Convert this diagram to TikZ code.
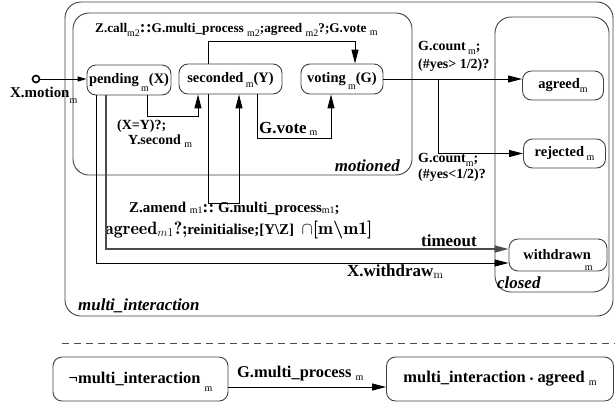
\documentclass[tikz,border=0pt]{standalone}
\usepackage{fontspec}
\setmainfont{Liberation Serif}
\usetikzlibrary{arrows.meta}
\tikzset{state/.style={draw=black!75, line width=0.9bp, rounded corners=9bp, inner sep=0pt, font=\fontsize{14.5}{14.5}\bfseries\selectfont},
  region/.style={draw=black!75, line width=0.9bp, rounded corners=16bp, inner sep=0pt},
  trans/.style={draw, line width=1bp, -{Triangle[length=14bp,width=7bp]}},
  lbl/.style={inner sep=0pt, font=\fontsize{14}{14}\bfseries\selectfont},
  biglbl/.style={inner sep=0pt, font=\fontsize{17}{17}\bfseries\selectfont},
  area/.style={inner sep=0pt, font=\fontsize{17}{17}\bfseries\itshape\selectfont},
  startdot/.style={draw, circle, line width=1.6bp, inner sep=0pt, minimum size=7bp}}
% lowered index, kept out of the line height
\newcommand{\lo}[2][6bp]{\smash{\raisebox{-#1}{\fontsize{10}{10}\mdseries\selectfont #2}}}
\newcommand{\dcolon}{{\fontsize{17}{17}\bfseries\selectfont:\kern0.5bp:}}
\newcommand{\cmr}{\fontfamily{lmr}\selectfont}

\begin{document}
\begin{tikzpicture}[x=1bp, y=-1bp]
  \useasboundingbox (0,0) rectangle (615,404);
  % superstates
  \node[region, minimum width=548bp, minimum height=314bp] (multi) at (339,159) {};
  \node[region, minimum width=339bp, minimum height=162bp] (motioned) at (242.5,94) {};
  \node[region, minimum width=114bp, minimum height=275bp] (closed) at (552,154.5) {};
  \node[area, anchor=base west] (multilbl) at (78,310) {multi\_interaction};
  \node[area, anchor=base east] (motionedlbl) at (400,171) {motioned};
  \node[area, anchor=base west] (closedlbl) at (497,288) {closed};

  % states
  \node[state, minimum width=84bp, minimum height=30bp] (pending) at (129,80) {pending\,\lo[8bp]{m}(X)};
  \node[state, minimum width=103bp, minimum height=30bp] (seconded) at (230.5,79) {seconded\,\lo[5bp]{m}(Y)};
  \node[state, minimum width=82bp, minimum height=30bp] (voting) at (342,79) {voting\,\lo[7bp]{m}(G)};
  \node[state, minimum width=81bp, minimum height=29bp] (agreed) at (563,85.5) {agreed\lo[4bp]{m}};
  \node[state, minimum width=82bp, minimum height=29bp] (rejected) at (564.5,153.5) {rejected\,\lo[4bp]{m}};
  \node[state, minimum width=98bp, minimum height=32bp] (withdrawn) at (558,255) {withdrawn\hspace{-6bp}\lo[11bp]{m}};

  % entry
  \node[startdot] (start) at (36,79) {};
  \draw[line width=1bp, -{Triangle[length=9bp,width=5bp]}] (start) -- (start -| pending.west);
  \node[biglbl, anchor=base west, font=\fontsize{15}{15}\bfseries\selectfont] (motionlbl) at (10,97) {X.motion\lo[6bp]{m}};

  % transitions inside motioned
  \draw[trans] ([xshift=18bp]pending.south) -- ++(0,21) -| ([xshift=-32.5bp]seconded.south);
  \node[lbl, anchor=base west] (eqlbl) at (117,129) {(X=Y)?;};
  \node[lbl, anchor=base west] (secondlbl) at (128,144) {Y.second\ \lo[3bp]{m}};

  \draw[trans] ([xshift=26.5bp]seconded.south) -- ++(0,44) -| ([xshift=-11bp]voting.south);
  \node[biglbl, anchor=base west] (votelbl) at (259,133) {G.vote\,\lo[2bp]{m}};

  \draw[trans] ([xshift=-22.5bp]seconded.north) -- ++(0,-22) -| ([xshift=13bp]voting.north);
  \node[lbl, anchor=base west, font=\fontsize{13.3}{13.3}\bfseries\selectfont] (calllbl) at (95,32)
    {Z.call\lo[4bp]{m2}\dcolon G.multi\_process\ \lo[4bp]{m2};agreed\ \lo[4bp]{m2}?;G.vote\ \lo[3bp]{m}};

  \draw[trans] ([xshift=-22.5bp]seconded.south) -- ++(0,109) -| ([xshift=8.5bp]seconded.south);
  \node[lbl, anchor=base west, font=\fontsize{15}{15}\bfseries\selectfont] (amendlbl) at (129,212)
    {Z.amend\ \lo[1bp]{m1}\dcolon\ G.multi\_process\lo[1bp]{m1};};
  \node[lbl, anchor=base west, font=\fontsize{15}{15}\bfseries\selectfont] (reinitlbl) at (105,234)
    {{\cmr\fontsize{18}{18}\selectfont agreed$_{m1}$\bfseries?;}reinitialise;[Y\textbackslash Z]\ \ {\cmr\fontsize{18}{18}\bfseries\selectfont$\cap$[m\textbackslash m1]}};

  % counting the votes
  \coordinate (fork) at (438,79);
  \draw[trans] (voting.east) -- (voting.east -| agreed.west);
  \draw[trans] (fork) |- (rejected.west);
  \node[lbl, anchor=base west] (count1) at (418,50) {G.count\,\lo[4bp]{m};};
  \node[lbl, anchor=base west] (yes1) at (418,68) {(\#yes> 1/2)?};
  \node[lbl, anchor=base west] (count2) at (418,162) {G.count\lo[4bp]{m};};
  \node[lbl, anchor=base west] (yes2) at (418,178) {(\#yes<1/2)?};

  % leaving motioned
  \draw[trans, draw=black!70, line width=1.4bp] ([xshift=-23bp]pending.south) |- ([yshift=6bp]withdrawn.west);
  \node[biglbl, anchor=base west] (timeoutlbl) at (421,246) {timeout};
  \draw[trans] ([xshift=-33bp]pending.south) |- ([yshift=-8bp]withdrawn.west);
  \node[biglbl, anchor=base west] (withdrawlbl) at (347,276) {X.withdraw{\cmr\mdseries\fontsize{12}{12}\selectfont\raisebox{-2bp}{m}}};

  % separator
  \coordinate (dashL) at (62,343);
  \coordinate (dashR) at (615,343);
  \draw[black!70, line width=0.8bp, dash pattern=on 7bp off 5bp] (dashL) -- (dashR);

  % overall effect
  \node[state, minimum width=175bp, minimum height=44bp, font=\fontsize{16.5}{16.5}\bfseries\selectfont] (notmulti) at (140.5,379) {¬multi\_interaction\ \lo[8bp]{m}};
  \node[state, minimum width=227bp, minimum height=44bp, font=\fontsize{16.5}{16.5}\bfseries\selectfont] (multiagreed) at (500,379) {multi\_interaction\ {\fontsize{10}{10}\selectfont\textbullet}\ agreed\ \lo[3bp]{m}};
  \draw[trans] ([yshift=-8bp]notmulti.east) -- ([yshift=-8bp]multiagreed.west);
  \node[lbl, anchor=base west, font=\fontsize{16.5}{16.5}\bfseries\selectfont] (processlbl) at (237,377) {G.multi\_process\ \lo[3bp]{m}};
\end{tikzpicture}
\end{document}
